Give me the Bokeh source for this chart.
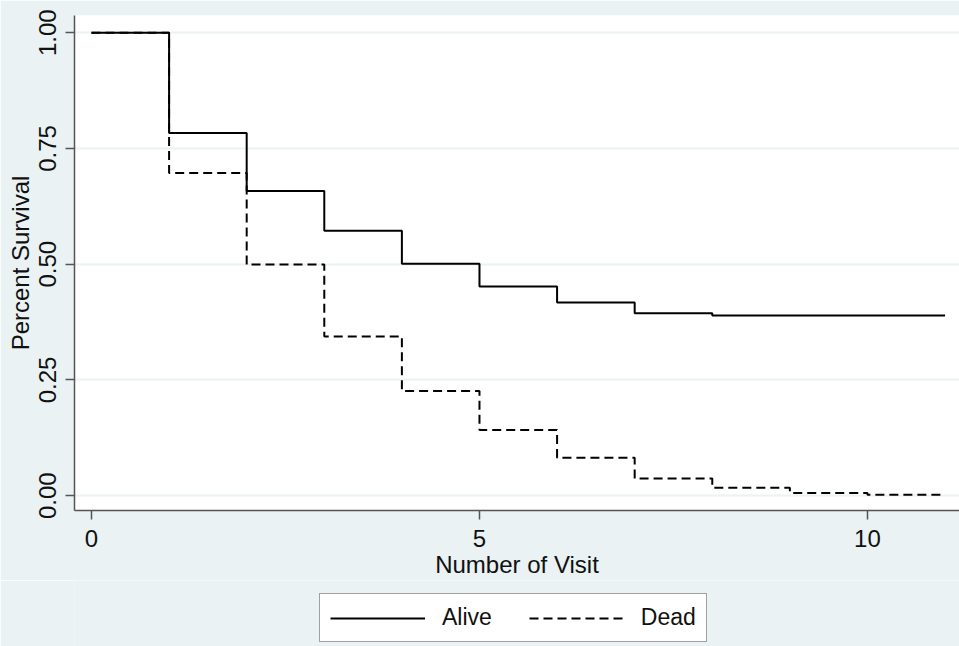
from bokeh.plotting import figure
from bokeh.layouts import column
from bokeh.models import Range1d, FixedTicker, Legend, LegendItem, NumeralTickFormatter
from bokeh.embed import file_html
from bokeh.resources import INLINE

visits = [0, 1, 2, 3, 4, 5, 6, 7, 8, 9, 10, 11]
alive = [1.0, 0.783, 0.658, 0.572, 0.501, 0.452, 0.417, 0.394, 0.389, 0.389, 0.389, 0.389]
dead = [1.0, 0.697, 0.499, 0.344, 0.226, 0.142, 0.082, 0.037, 0.017, 0.006, 0.002, 0.002]
series_labels = ["Alive", "Dead"]
x_ticks = [0, 5, 10]
y_ticks = [0.0, 0.25, 0.5, 0.75, 1.0]

BG = "#eaf2f3"
FONT = "Liberation Sans"

p = figure(width=959, height=580, output_backend="svg", toolbar_location=None,
           x_range=Range1d(-0.219, 11.186), y_range=Range1d(-0.032, 1.037),
           min_border_left=74, min_border_right=0, min_border_top=15, min_border_bottom=68)
p.background_fill_color = "white"
p.border_fill_color = BG
p.outline_line_color = None

p.step(visits, alive, mode="after", line_color="black", line_width=2)
p.step(visits, dead, mode="after", line_color="black", line_width=2, line_dash="9 5")

p.xgrid.grid_line_color = None
p.ygrid.grid_line_color = BG
p.ygrid.grid_line_width = 2
p.ygrid.ticker = FixedTicker(ticks=y_ticks)

p.xaxis.ticker = FixedTicker(ticks=x_ticks)
p.yaxis.ticker = FixedTicker(ticks=y_ticks)
p.yaxis.formatter = NumeralTickFormatter(format="0.00")
p.yaxis.major_label_orientation = "vertical"

for ax in (p.xaxis, p.yaxis):
    ax.axis_line_color = "#555555"
    ax.axis_line_width = 1.5
    ax.major_tick_line_color = "#555555"
    ax.major_tick_line_width = 1.5
    ax.major_tick_out = 9
    ax.major_tick_in = 0
    ax.minor_tick_line_color = None
    ax.major_label_text_font = FONT
    ax.major_label_text_font_size = "24px"
    ax.major_label_text_color = "#111111"
    ax.axis_label_text_font = FONT
    ax.axis_label_text_font_size = "24px"
    ax.axis_label_text_font_style = "normal"
    ax.axis_label_text_color = "#111111"

p.xaxis.major_label_standoff = 10
p.yaxis.major_label_standoff = 9
p.xaxis.axis_label = "Number of Visit"
p.yaxis.axis_label = "Percent Survival"
p.xaxis.axis_label_standoff = 1
p.yaxis.axis_label_standoff = 3

# legend strip below the chart (series drawn out of view, only the legend shows)
q = figure(width=959, height=66, output_backend="svg", toolbar_location=None,
           x_axis_location=None, y_axis_location=None,
           x_range=Range1d(100, 101), y_range=Range1d(100, 101),
           min_border_left=74, min_border_right=0, min_border_top=0, min_border_bottom=0)
q.background_fill_color = BG
q.border_fill_color = BG
q.outline_line_color = None
q.grid.visible = False
k1 = q.line(visits, alive, line_color="black", line_width=2)
k2 = q.line(visits, dead, line_color="black", line_width=2, line_dash="9 5")

legend = Legend(items=[LegendItem(label=series_labels[0], renderers=[k1]),
                       LegendItem(label=series_labels[1], renderers=[k2])],
                orientation="horizontal", location=(245, 4))
legend.glyph_width = 95
legend.label_standoff = 17
legend.spacing = 37
legend.padding = 10
legend.margin = 0
legend.label_text_font = FONT
legend.label_text_font_size = "23px"
legend.label_text_color = "#111111"
legend.border_line_color = "#444444"
legend.border_line_width = 1.5
legend.background_fill_color = "white"
legend.background_fill_alpha = 1.0
q.add_layout(legend, "center")

layout = column(p, q, spacing=0)
open("out.html", "w").write(file_html(layout, INLINE))
